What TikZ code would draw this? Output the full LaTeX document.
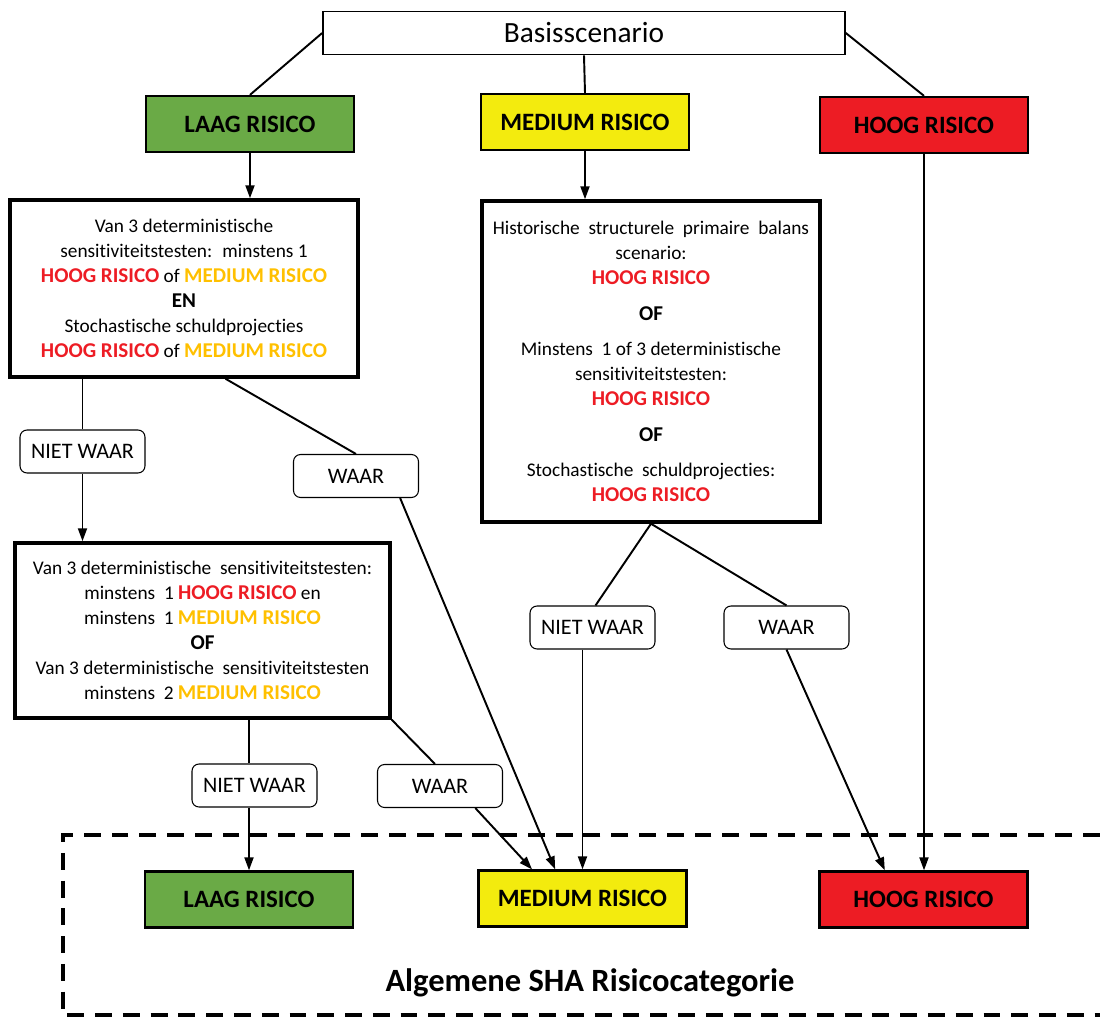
\documentclass[tikz,border=0pt]{standalone}
\usepackage{fontspec}
\setmainfont{Carlito}[Ligatures=NoCommon]
\usetikzlibrary{arrows.meta,positioning,calc}
\definecolor{laagfill}{RGB}{106,170,70}
\definecolor{mediumfill}{RGB}{243,235,14}
\definecolor{hoogfill}{RGB}{237,28,36}
\definecolor{hoogtext}{RGB}{237,28,36}
\definecolor{mediumtext}{RGB}{255,192,0}
\newcommand{\hoogrisico}{{\fontsize{12}{14.2}\selectfont\textcolor{hoogtext}{\textbf{HOOG RISICO}}}}
\newcommand{\mediumrisico}{{\fontsize{12}{14.2}\selectfont\textcolor{mediumtext}{\textbf{MEDIUM RISICO}}}}
\newcommand{\keyword}[1]{{\fontsize{12}{14.2}\selectfont\textbf{#1}}}

\begin{document}
\begin{tikzpicture}[
    x=0.02cm, y=-0.02cm,
    risk/.style={draw, line width=1.3pt, minimum width=4.16cm, minimum height=1.12cm, font=\fontsize{14.2}{17}\selectfont\bfseries},
    cond/.style={draw, line width=2pt, align=center, inner sep=0pt, font=\fontsize{11}{14.2}\selectfont},
    tag/.style={draw, rounded corners=4pt, line width=0.6pt, minimum width=2.5cm, minimum height=0.86cm, font=\fontsize{12.6}{14}\selectfont},
    conn/.style={line width=1.1pt},
    arr/.style={line width=1.1pt, -{Triangle[length=0.26cm,width=0.18cm]}}
  ]
    \useasboundingbox (0,0) rectangle (1100,1017);

    % start and first risk level
    \node[draw, line width=1pt, minimum width=10.44cm, minimum height=0.86cm, font=\fontsize{16.7}{19}\selectfont] (basis) at (584,33) {Basisscenario};
    \node[risk, fill=laagfill] (laag1) at (250,124) {LAAG RISICO};
    \node[risk, fill=mediumfill] (medium1) at (585,122) {MEDIUM RISICO};
    \node[risk, fill=hoogfill] (hoog1) at (924,125) {HOOG RISICO};

    % conditions
    \node[cond, minimum width=6.96cm, minimum height=3.54cm] (cond1) at (184,288.5) {Van 3 deterministische\\
      sensitiviteitstesten:~ minstens 1\\
      \hoogrisico{} of \mediumrisico\\
      \keyword{EN}\\
      Stochastische schuldprojecties\\
      \hoogrisico{} of \mediumrisico};
    \node[cond, minimum width=6.76cm, minimum height=6.42cm] (cond2) at (651,361.5) {Historische~ structurele~ primaire~ balans\\
      scenario:\\
      \hoogrisico\\[6pt]
      \keyword{OF}\\[6pt]
      Minstens~ 1 of 3 deterministische\\
      sensitiviteitstesten:\\
      \hoogrisico\\[6pt]
      \keyword{OF}\\[6pt]
      Stochastische~ schuldprojecties:\\
      \hoogrisico};
    \node[cond, minimum width=7.5cm, minimum height=3.5cm] (cond3) at (202.5,630.5) {Van 3 deterministische~ sensitiviteitstesten:\\
      minstens~ 1 \hoogrisico{} en\\
      minstens~ 1 \mediumrisico\\
      \keyword{OF}\\
      Van 3 deterministische~ sensitiviteitstesten\\
      minstens~ 2 \mediumrisico};

    % answers
    \node[tag] (nw1) at (82.5,451.5) {NIET WAAR};
    \node[tag] (w1) at (356,476) {WAAR};
    \node[tag] (nw2) at (254.5,785.5) {NIET WAAR};
    \node[tag] (w2) at (440,786) {WAAR};
    \node[tag] (nw3) at (592.5,627.5) {NIET WAAR};
    \node[tag] (w3) at (786.5,627.5) {WAAR};

    % final category
    \node[risk, fill=laagfill] (laag2) at (249,899.5) {LAAG RISICO};
    \node[risk, fill=mediumfill] (medium2) at (582.5,898.5) {MEDIUM RISICO};
    \node[risk, fill=hoogfill] (hoog2) at (923.5,899.5) {HOOG RISICO};
    \node[font=\fontsize{18.5}{21}\selectfont\bfseries] (title) at (590,983) {Algemene SHA Risicocategorie};
    \draw[line width=2pt, dash pattern=on 9.6pt off 6.2pt] (1100,835) -- (63,835) -- (63,1015) -- (1100,1015);

    % connectors
    \draw[conn] (basis.west) -- (laag1.north);
    \draw[conn] (basis.south) -- (medium1.north);
    \draw[conn] (basis.east) -- (hoog1.north);
    \draw[arr] (laag1.south) -- (laag1.south |- cond1.north);
    \draw[arr] (medium1.south) -- (medium1.south |- cond2.north);
    \draw[arr] (hoog1.south) -- (hoog1.south |- hoog2.north);

    \draw[conn] (nw1.north |- cond1.south) -- (nw1.north);
    \draw[arr] (nw1.south) -- (nw1.south |- cond3.north);
    \draw[conn] ($(cond1.south west)!0.618!(cond1.south east)$) -- (w1.north);
    \draw[arr] ($(w1.south west)!0.85!(w1.south east)$) -- ($(medium2.north west)!0.37!(medium2.north east)$);

    \draw[conn] (cond3.south -| laag2.north) -- (nw2.north -| laag2.north);
    \draw[arr] (nw2.south -| laag2.north) -- (laag2.north);
    \draw[conn] (cond3.south east) -- ($(w2.north)+(-5,0)$);
    \draw[arr] ($(w2.south west)!0.78!(w2.south east)$) -- ($(medium2.north west)!0.26!(medium2.north east)$);

    \draw[conn] (cond2.south) -- ($(nw3.north)+(3,0)$);
    \draw[conn] (cond2.south) -- (w3.north);
    \draw[arr] (nw3.south -| medium2.north) -- (medium2.north);
    \draw[arr] (w3.south) -- ($(hoog2.north west)!0.316!(hoog2.north east)$);
  \end{tikzpicture}
\end{document}
